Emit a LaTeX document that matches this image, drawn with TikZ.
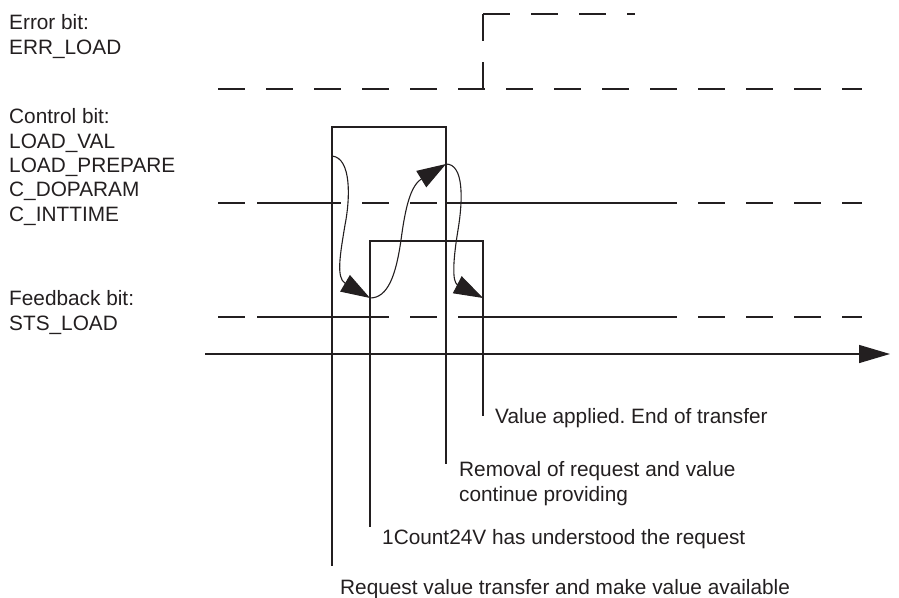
\documentclass[tikz,border=0pt]{standalone}
\usepackage{fontspec}
\setmainfont{Liberation Sans}
\usetikzlibrary{positioning, arrows.meta}
\definecolor{ink}{RGB}{35,31,32}
\tikzstyle{level} = [draw=ink, line width=1.3pt, dash pattern=on 27pt off 21pt]
\tikzstyle{signal} = [draw=ink, line width=2.7pt]
\tikzstyle{marker} = [draw=ink, line width=1.3pt]
\tikzstyle{lbl} = [text=ink, inner sep=0pt, anchor=base west, align=left, font=\fontsize{20.8}{24.3}\selectfont\frenchspacing]
\tikzstyle{arrow} = [draw=ink, line width=1.1pt, -{Triangle[length=29pt, width=19pt]}]
\tikzstyle{axis} = [draw=ink, line width=1.4pt, -{Triangle[length=31pt, width=18pt]}]

\begin{document}
\begin{tikzpicture}[x=1pt, y=-1pt]
\useasboundingbox (0,0) rectangle (899,597);

% left labels (placed at the baseline of their last line)
\node (errlbl) [lbl] at (9,54) {Error bit:\\ERR\_LOAD};
\node (ctllbl) [lbl] at (9,221) {Control bit:\\LOAD\_VAL\\LOAD\_PREPARE\\C\_DOPARAM\\C\_INTTIME};
\node (fblbl) [lbl] at (9,330) {Feedback bit:\\STS\_LOAD};

% idle levels
\draw [level] (218,89) -- (862,89);
\draw [level] (218,203) -- (862,203);
\draw [level] (218,317) -- (862,317);

% error bit
\coordinate (errup) at (483,14);
\draw [level] (errup) -- (483,89);
\draw [level] (errup) -- (635,14);

% control and feedback bits
\coordinate (req) at (332,203);
\coordinate (ack) at (370,317);
\coordinate (rem) at (446,203);
\coordinate (done) at (483,317);
\draw [signal] (257,203) -- (req) -- (332,127) -- (446,127) -- (rem) -- (673,203);
\draw [signal] (257,317) -- (ack) -- (370,241) -- (483,241) -- (done) -- (673,317);

% time axis
\coordinate (t0) at (205,354);
\coordinate (t1) at (890,354);
\draw [axis] (t0) -- (t1);

% handshake
\coordinate (h1) at (332,156);
\coordinate (h2) at (370,298);
\coordinate (h3) at (446,164);
\coordinate (h4) at (483,298);
\draw [arrow] (h1) .. controls (352,158) and (350,200) .. (345,225) .. controls (340,255) and (336,278) .. (h2);
\draw [arrow] (h2) .. controls (388,298) and (396,275) .. (401,240) .. controls (405,210) and (410,186) .. (h3);
\draw [arrow] (h3) .. controls (464,164) and (463,200) .. (458,230) .. controls (453,260) and (452,282) .. (h4);

% notes
\node (n4) [lbl] at (495,423) {Value applied. End of transfer};
\node (n3) [lbl] at (459,501) {Removal of request and value\\continue providing};
\node (n2) [lbl] at (382,544) {1Count24V has understood the request};
\node (n1) [lbl] at (340,594) {Request value transfer and make value available};
\draw [marker] (req) -- (332,566);
\draw [marker] (ack) -- (370,527);
\draw [marker] (rem) -- (446,464);
\draw [marker] (done) -- (483,416);

\end{tikzpicture}
\end{document}
